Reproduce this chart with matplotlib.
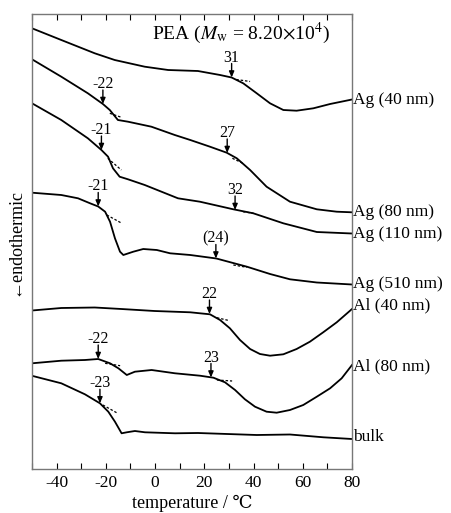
import matplotlib
matplotlib.use('Agg')
import matplotlib.pyplot as plt
import numpy as np

plt.rcParams['font.family'] = ['Liberation Serif', 'DejaVu Serif']
plt.rcParams['mathtext.fontset'] = 'stix'
plt.rcParams['axes.unicode_minus'] = False

# curve data: temperature (C) and signal (arbitrary units, endothermic downwards)
ag40_t = [-50, -38.1, -24.5, -16.4, -4.2, 5.3, 17.4, 26.4, 31.1, 35.8, 41.3, 46.7, 52.1, 57.5, 64.3, 71.1, 80]
ag40_y = [28.3, 40, 53.3, 60, 66.7, 70, 71, 75, 77.5, 83.3, 93.3, 103.3, 110, 110.7, 108.3, 104, 99.5]

ag80_t = [-50, -38.1, -27.3, -21.2, -18.4, -15.1, -11, -1.5, 8, 14.3, 22.3, 29.1, 33.2, 38.6, 45.3, 54.8, 65.7, 73.8, 80]
ag80_y = [59.3, 76.7, 93.3, 104, 110, 120, 121.7, 126.7, 135, 140, 146.7, 152.7, 158.3, 170, 186.7, 201.7, 209.3, 211.7, 212.3]

ag110_t = [-50, -38.1, -27.3, -21.8, -19.1, -17.1, -14.4, -11, -4.2, 9.3, 18.2, 31.8, 39.9, 52.1, 65.7, 80]
ag110_y = [103.3, 120, 138.3, 150, 156.7, 168.3, 176.7, 179.3, 185, 198.3, 201.7, 209.3, 213.3, 223.3, 232, 233.5]

ag510_t = [-50, -38.1, -31.3, -26.4, -23.1, -20.3, -18.3, -16.3, -14.25, -12.9, -8.85, -4.8, 0.7, 6.1,
           14.3, 24.9, 37.3, 46.7, 54.8, 65.7, 80]
ag510_y = [192.7, 195, 198.3, 203.3, 206.5, 211.7, 221.7, 238.3, 251.7, 255, 251.7, 249, 250, 253.3,
           255, 258.5, 266.7, 274, 279.3, 282.5, 284.5]

al40_t = [-50, -38.1, -24.5, -13.7, -0.2, 14.3, 18.25, 22.3, 26.4, 30.4, 34.5, 38.6, 42.6, 46.7,
          52.1, 57.5, 62.9, 68.3, 73.8, 80]
al40_y = [310.5, 308, 307.5, 309, 311, 312.3, 313.3, 314.3, 320, 328.3, 340, 349, 354, 355.7,
          354.3, 349, 341.7, 332.3, 322.3, 309]

al80_t = [-50, -38.1, -28.5, -23.1, -18.3, -14.9, -11.5, -8.2, -1.4, 8.1, 18.25, 23.7, 28.4, 32.5,
          36.5, 40.6, 45.3, 49.4, 54.8, 60.2, 65.7, 71.1, 75.8, 80]
al80_y = [363.3, 360.7, 360, 359, 363.3, 368.3, 375, 371.7, 370, 373.3, 375.7, 377.7, 382.3, 390,
          399.3, 406.7, 411.7, 412.7, 410, 405, 396.7, 388.3, 378.3, 365]

bulk_t = [-50, -38.1, -28.5, -22.4, -19.0, -16.3, -13.6, -11.5, -8.2, -4.1, 8.1, 17.4, 41.3, 54.8, 68.4, 80]
bulk_y = [375.8, 383.3, 394.3, 403.3, 411.7, 421.7, 433.3, 432.3, 431, 432.3, 433.3, 433, 435, 434.5, 437.3, 439]

curves = [
    (ag40_t, ag40_y, 'Ag (40 nm)', 99.5),
    (ag80_t, ag80_y, 'Ag (80 nm)', 212.5),
    (ag110_t, ag110_y, 'Ag (110 nm)', 234.5),
    (ag510_t, ag510_y, 'Ag (510 nm)', 284),
    (al40_t, al40_y, 'Al (40 nm)', 305),
    (al80_t, al80_y, 'Al (80 nm)', 366),
    (bulk_t, bulk_y, 'bulk', 437),
]

# onset markers: (temperature, signal, label)
onsets = [
    (31.1, 77.5, '31'),
    (-21.2, 104, '-22'),
    (29.3, 153, '27'),
    (-21.8, 150, '-21'),
    (32.5, 210, '32'),
    (-23.1, 206.5, '-21'),
    (24.7, 258.5, '(24)'),
    (22.1, 314, '22'),
    (-23.1, 359, '-22'),
    (22.7, 377.5, '23'),
    (-22.4, 403.3, '-23'),
]

# extrapolated baselines (dashed): t0, t1, y0, y1
tangents = [
    (33.0, 38.6, 79.5, 81.5),
    (-18.4, -13.7, 113.3, 117.3),
    (31.4, 35.7, 158.3, 163.3),
    (-19.2, -13.7, 158.3, 170),
    (35.7, 40.0, 211.7, 213.3),
    (-19.6, -13.5, 215, 223.3),
    (31.8, 37.3, 265, 267.3),
    (25.1, 30.3, 317.7, 320.7),
    (-20.3, -14.2, 363.3, 365.7),
    (25.1, 31.3, 380, 381),
    (-21.2, -15.2, 405, 413.3),
]

fig = plt.figure(figsize=(4.52, 5.13), dpi=100)
ax = fig.add_axes([32 / 452, 44 / 513, 320 / 452, 455 / 513])

for t, y, name, ylab in curves:
    ax.plot(t, y, color='black', lw=1.3)
    ax.text(80.4, ylab, name, fontsize=12.5, va='center', ha='left', clip_on=False)

for t0, t1, y0, y1 in tangents:
    ax.plot([t0, t1], [y0, y1], color='black', lw=0.9, ls=(0, (2, 1.5)))

for t, y, lab in onsets:
    ax.annotate('', xy=(t, y), xytext=(0, 14), textcoords='offset pixels',
                arrowprops=dict(arrowstyle='-|>,head_length=0.35,head_width=0.15',
                                color='black', lw=1.0, shrinkA=0, shrinkB=0))
    ax.annotate(lab, xy=(t, y), xytext=(0, 12), textcoords='offset pixels',
                ha='center', va='bottom', fontsize=11.5)

ax.text(0.375, 0.958, r'PEA ($M_{\rm w}$ = 8.20$\times$10$^4$)', transform=ax.transAxes,
        fontsize=14, ha='left', va='center')

ax.set_xlim(-50, 80)
ax.set_ylim(469, 14)
ax.set_xticks(np.arange(-40, 81, 20))
ax.set_xticks(np.arange(-50, 81, 10), minor=True)
ax.set_yticks([])
ax.tick_params(axis='x', which='both', direction='in', top=True, labelsize=12.5,
               length=4, width=0.8, colors='black', pad=4)
for sp in ax.spines.values():
    sp.set_color('#777777')
    sp.set_linewidth(1.0)

ax.set_xlabel('temperature / \u2103', fontsize=13, labelpad=3)
ax.set_ylabel('\u2190endothermic', fontsize=13, labelpad=6)

fig.savefig('out.png', dpi=100)
